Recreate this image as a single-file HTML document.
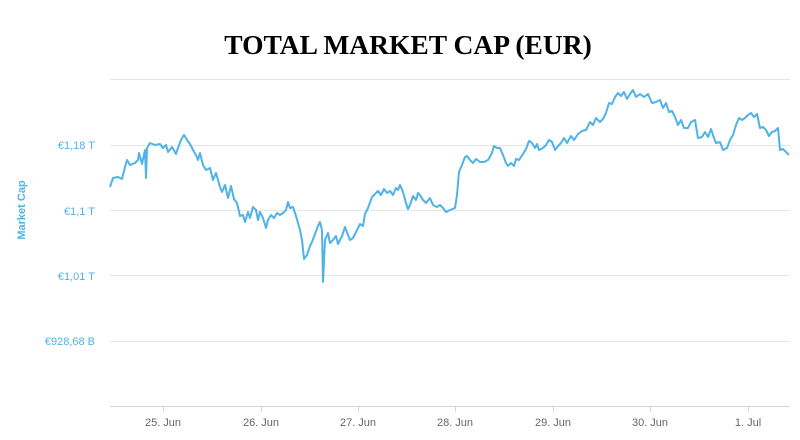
<!DOCTYPE html>
<html><head><meta charset="utf-8"><style>
html,body{margin:0;padding:0;background:#fff;width:800px;height:440px;overflow:hidden}
</style></head><body>
<svg width="800" height="440" xmlns="http://www.w3.org/2000/svg">
<text x="408" y="54" text-anchor="middle" font-family="Liberation Serif" font-weight="bold" font-size="27.5" fill="#000">TOTAL MARKET CAP (EUR)</text>
<g stroke="#e6e6e6" stroke-width="1">
<line x1="110" y1="79.5" x2="790" y2="79.5"/>
<line x1="110" y1="145.5" x2="790" y2="145.5"/>
<line x1="110" y1="210.5" x2="790" y2="210.5"/>
<line x1="110" y1="275.5" x2="790" y2="275.5"/>
<line x1="110" y1="341.5" x2="790" y2="341.5"/>
</g>
<line x1="110" y1="406.5" x2="790" y2="406.5" stroke="#ccd6eb"/>
<g stroke="#ccd6eb">
<line x1="163.5" y1="406" x2="163.5" y2="412"/><line x1="261.5" y1="406" x2="261.5" y2="412"/>
<line x1="358.5" y1="406" x2="358.5" y2="412"/><line x1="455.5" y1="406" x2="455.5" y2="412"/>
<line x1="553.5" y1="406" x2="553.5" y2="412"/><line x1="650.5" y1="406" x2="650.5" y2="412"/>
<line x1="748.5" y1="406" x2="748.5" y2="412"/>
</g>
<g font-family="Liberation Sans" font-size="11" fill="#666" text-anchor="middle">
<text x="163" y="426">25. Jun</text><text x="261" y="426">26. Jun</text><text x="358" y="426">27. Jun</text>
<text x="455" y="426">28. Jun</text><text x="553" y="426">29. Jun</text><text x="650" y="426">30. Jun</text>
<text x="748" y="426">1. Jul</text>
</g>
<g font-family="Liberation Sans" font-size="11" fill="#4fb3e8" text-anchor="end">
<text x="95" y="149">€1,18 T</text><text x="95" y="215">€1,1 T</text><text x="95" y="280">€1,01 T</text><text x="95" y="345">€928,68 B</text>
</g>
<text transform="translate(25,210) rotate(-90)" text-anchor="middle" font-family="Liberation Sans" font-size="11" font-weight="bold" fill="#4fb3e8">Market Cap</text>
<polyline fill="none" stroke="#4fb3e8" stroke-width="2" stroke-linejoin="round" points="110,187 113,178 118,177 122,179 125,167 127,160 130,165 135,163 138,160 139,153 142,164 145,150 146,178 147,148 150,143 155,145 160,144 163,148 166,145 168,152 172,147 176,154 178,148 181,140 184,135 187,140 190,144 193,150 196,155 198,160 200,153 203,165 206,170 210,168 213,180 216,173 220,187 222,192 225,185 228,198 231,186 234,199 237,203 240,216 243,215 245,222 248,212 250,218 253,207 256,210 258,220 260,212 263,218 266,228 268,220 271,215 274,218 277,213 280,215 283,213 286,210 288,202 290,208 293,207 296,216 300,230 302,240 304,259 307,255 310,246 312,242 315,234 318,226 320,222 322,230 323,282 325,240 328,233 330,243 333,240 336,236 338,244 342,236 345,227 348,235 350,240 353,238 356,232 360,224 363,226 365,214 368,208 372,197 375,194 378,191 381,195 384,189 387,193 390,191 393,195 396,188 398,190 400,185 403,192 406,203 408,209 410,205 413,196 416,200 418,193 420,195 423,200 426,203 430,198 433,205 437,207 440,205 443,208 446,212 450,210 455,208 457,195 459,172 462,165 465,157 467,156 470,160 473,163 476,159 480,162 484,162 488,160 492,153 494,146 497,148 500,148 503,155 506,163 508,166 511,163 514,166 516,159 519,160 523,154 526,149 529,141 532,143 535,148 537,144 539,150 543,148 546,145 549,140 552,142 555,150 558,146 561,143 564,138 567,143 571,136 574,140 578,134 582,131 586,130 590,122 593,125 596,118 600,122 603,119 606,113 609,103 612,104 615,97 618,93 621,96 624,92 627,99 630,94 633,90 636,97 640,94 644,97 648,94 652,103 656,102 660,100 663,108 666,103 669,112 672,111 675,117 678,125 681,120 684,128 688,128 691,122 695,120 698,138 702,137 705,132 708,137 711,129 714,138 716,143 720,142 723,150 727,148 730,140 733,135 736,125 739,118 742,120 745,118 748,115 751,113 754,117 757,114 760,128 763,127 766,130 769,136 772,132 775,131 778,128 780,150 783,149 786,152 789,155"/>
</svg>
</body></html>
